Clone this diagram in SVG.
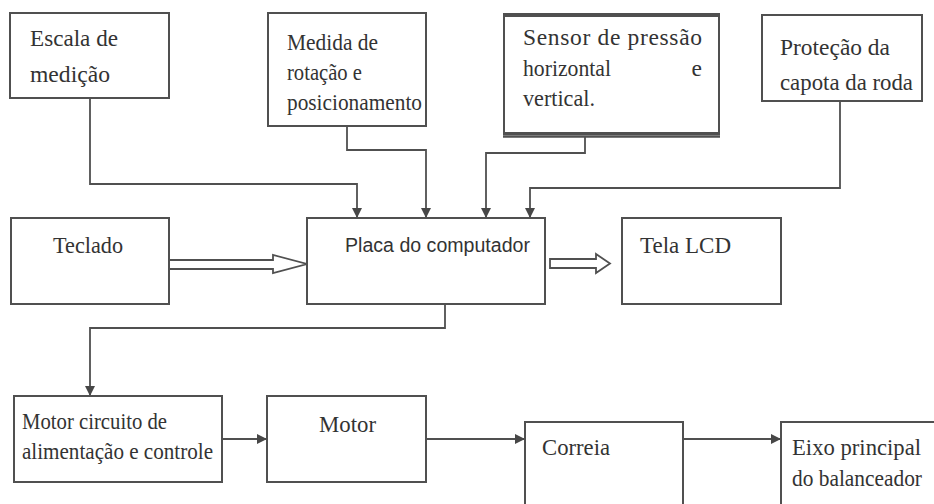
<svg xmlns="http://www.w3.org/2000/svg" width="934" height="504" viewBox="0 0 934 504">
<style>
.box{fill:#fff;stroke:#505050;stroke-width:2}
.ln{fill:none;stroke:#505050;stroke-width:1.8}
.t{font-family:"Liberation Serif","Times New Roman",serif;font-size:23.5px;fill:#333}
.s{font-family:"Liberation Sans",Arial,sans-serif;font-size:20px;fill:#333}
.hollow{fill:#fff;stroke:#505050;stroke-width:1.8;stroke-linejoin:miter}
</style>
<defs>
<marker id="ah" markerWidth="10" markerHeight="10" refX="9" refY="5" orient="auto" markerUnits="userSpaceOnUse">
<path d="M0,0 L10,5 L0,10 Z" fill="#474747"/>
</marker>
</defs>
<rect width="934" height="504" fill="#fff"/>
<g id="connectors">
<polyline class="ln" points="90,98 90,184 357,184 357,217" marker-end="url(#ah)"/>
<polyline class="ln" points="347,126 347,150 426,150 426,217" marker-end="url(#ah)"/>
<polyline class="ln" points="585,137 585,153 486,153 486,217" marker-end="url(#ah)"/>
<polyline class="ln" points="840,101 840,188 530,188 530,217" marker-end="url(#ah)"/>
<polyline class="ln" points="445,278 445,328 90,328 90,395" marker-end="url(#ah)"/>
<path class="hollow" d="M169,260 L273,260 L273,255 L307,264 L273,273 L273,269 L169,269"/>
<path class="hollow" d="M550,259 L596,259 L596,254 L610,263.5 L596,273 L596,268 L550,268 Z"/>
<line class="ln" x1="222" y1="439" x2="266" y2="439" marker-end="url(#ah)"/>
<line class="ln" x1="426" y1="439" x2="524" y2="439" marker-end="url(#ah)"/>
<line class="ln" x1="683" y1="439" x2="780" y2="439" marker-end="url(#ah)"/>
</g>
<g id="escala">
<rect class="box" x="10" y="13" width="159" height="85"/>
<text class="t" x="30" y="46" textLength="88" lengthAdjust="spacingAndGlyphs">Escala de</text>
<text class="t" x="30" y="82" textLength="80" lengthAdjust="spacingAndGlyphs">medição</text>
</g>
<g id="medida">
<rect class="box" x="268" y="13" width="158" height="113"/>
<text class="t" x="287" y="50" textLength="91" lengthAdjust="spacingAndGlyphs">Medida de</text>
<text class="t" x="287" y="80" textLength="75" lengthAdjust="spacingAndGlyphs">rotação e</text>
<text class="t" x="287" y="110" textLength="135" lengthAdjust="spacingAndGlyphs">posicionamento</text>
</g>
<g id="sensor">
<rect class="box" x="504" y="15" width="215" height="119"/>
<line x1="503" y1="15" x2="720" y2="15" stroke="#505050" stroke-width="4"/>
<line x1="503" y1="133" x2="720" y2="133" stroke="#505050" stroke-width="2"/>
<line x1="503" y1="136.5" x2="720" y2="136.5" stroke="#505050" stroke-width="2.5"/>
<text class="t" x="523" y="45" textLength="179" lengthAdjust="spacing">Sensor de pressão</text>
<text class="t" x="523" y="76" textLength="88" lengthAdjust="spacingAndGlyphs">horizontal</text>
<text class="t" x="702" y="76" text-anchor="end">e</text>
<text class="t" x="523" y="106" textLength="72" lengthAdjust="spacingAndGlyphs">vertical.</text>
</g>
<g id="protecao">
<rect class="box" x="762" y="15" width="160" height="86"/>
<text class="t" x="780" y="55" textLength="110" lengthAdjust="spacingAndGlyphs">Proteção da</text>
<text class="t" x="780" y="90" textLength="133" lengthAdjust="spacingAndGlyphs">capota da roda</text>
</g>
<g id="teclado">
<rect class="box" x="11" y="218" width="158" height="86"/>
<text class="t" x="53" y="253" textLength="70" lengthAdjust="spacingAndGlyphs">Teclado</text>
</g>
<g id="placa">
<rect class="box" x="307" y="218" width="238" height="86"/>
<text class="s" x="345" y="252" textLength="185" lengthAdjust="spacingAndGlyphs">Placa do computador</text>
</g>
<g id="tela">
<rect class="box" x="622" y="218" width="159" height="86"/>
<text class="t" x="640" y="253" textLength="91" lengthAdjust="spacingAndGlyphs">Tela LCD</text>
</g>
<g id="circuito">
<rect class="box" x="14" y="396" width="208" height="86"/>
<text class="t" x="22" y="429" textLength="145" lengthAdjust="spacingAndGlyphs">Motor circuito de</text>
<text class="t" x="22" y="459" textLength="191" lengthAdjust="spacingAndGlyphs">alimentação e controle</text>
</g>
<g id="motor">
<rect class="box" x="267" y="396" width="159" height="86"/>
<text class="t" x="319" y="432" textLength="57" lengthAdjust="spacingAndGlyphs">Motor</text>
</g>
<g id="correia">
<rect class="box" x="525" y="422" width="158" height="100"/>
<text class="t" x="542" y="455" textLength="68" lengthAdjust="spacingAndGlyphs">Correia</text>
</g>
<g id="eixo">
<rect class="box" x="781" y="422" width="170" height="100"/>
<text class="t" x="792" y="455" textLength="129" lengthAdjust="spacingAndGlyphs">Eixo principal</text>
<text class="t" x="792" y="486" textLength="130" lengthAdjust="spacingAndGlyphs" font-size="22.5">do balanceador</text>
</g>
</svg>
